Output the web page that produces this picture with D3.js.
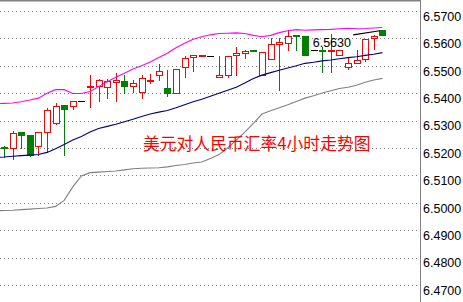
<!DOCTYPE html>
<html><head><meta charset="utf-8">
<script src="https://cdn.jsdelivr.net/npm/d3@7"></script>
<style>html,body{margin:0;padding:0;background:#fff;overflow:hidden}</style>
</head><body>
<svg id="c" width="463" height="302"></svg>
<script>
// ---- data (4-hour USD/CNY bars) ----
const opens  = [6.5202,6.5200,6.5258,6.5247,6.5208,6.5257,6.5290,6.5356,6.5352,6.5372,
                6.5423,6.5428,6.5423,6.5441,6.5443,6.5426,6.5406,6.5446,6.5465,6.5419,
                6.5401,6.5494,6.5532,6.5538,6.5535,6.5460,6.5468,6.5541,6.5545,6.5557,
                6.5465,6.5523,6.5578,6.5585,6.5614,6.5608,6.5556,6.5557,6.5555,6.5541,
                6.5496,6.5512,6.5524,6.5603,6.5632];
const highs  = [6.5207,6.5262,6.5258,6.5247,6.5259,6.5347,6.5366,6.5357,6.5372,6.5372,
                6.5466,6.5451,6.5451,6.5474,6.5466,6.5448,6.5466,6.5469,6.5505,6.5484,
                6.5487,6.5535,6.5539,6.5539,6.5535,6.5535,6.5535,6.5569,6.5559,6.5557,
                6.5552,6.5603,6.5603,6.5630,6.5614,6.5608,6.5556,6.5569,6.5615,6.5557,
                6.5527,6.5557,6.5597,6.5611,6.5632];
const lows   = [6.5168,6.5160,6.5200,6.5172,6.5176,6.5185,6.5289,6.5176,6.5342,6.5372,
                6.5348,6.5372,6.5382,6.5372,6.5401,6.5405,6.5381,6.5438,6.5450,6.5389,
                6.5401,6.5460,6.5481,6.5538,6.5535,6.5460,6.5460,6.5468,6.5527,6.5556,
                6.5465,6.5523,6.5411,6.5559,6.5559,6.5541,6.5556,6.5478,6.5478,6.5541,
                6.5487,6.5512,6.5518,6.5563,6.5611];
const closes = [6.5200,6.5254,6.5247,6.5174,6.5257,6.5338,6.5352,6.5344,6.5371,6.5372,
                6.5428,6.5450,6.5443,6.5450,6.5426,6.5437,6.5457,6.5448,6.5480,6.5401,
                6.5487,6.5530,6.5539,6.5539,6.5535,6.5466,6.5535,6.5548,6.5553,6.5556,
                6.5552,6.5579,6.5586,6.5608,6.5609,6.5541,6.5556,6.5555,6.5557,6.5557,
                6.5512,6.5520,6.5597,6.5609,6.5611];
// Bollinger bands, starting one bar before the first visible bar
const upperBand  = [6.5362,6.5363,6.5364,6.5369,6.5375,6.5382,6.5400,6.5413,6.5413,6.5399,
                    6.5399,6.5406,6.5424,6.5442,6.5458,6.5473,6.5488,6.5500,6.5514,6.5530,
                    6.5546,6.5566,6.5582,6.5597,6.5606,6.5613,6.5618,6.5619,6.5620,6.5618,
                    6.5611,6.5606,6.5611,6.5621,6.5628,6.5632,6.5630,6.5631,6.5632,6.5633,
                    6.5635,6.5637,6.5635,6.5636,6.5638,6.5640];
const middleBand = [6.5165,6.5167,6.5170,6.5172,6.5174,6.5176,6.5184,6.5197,6.5213,6.5229,
                    6.5242,6.5258,6.5271,6.5279,6.5287,6.5296,6.5305,6.5315,6.5324,6.5331,
                    6.5337,6.5347,6.5358,6.5369,6.5378,6.5389,6.5400,6.5411,6.5422,6.5437,
                    6.5454,6.5466,6.5475,6.5484,6.5492,6.5500,6.5509,6.5513,6.5518,6.5521,
                    6.5526,6.5530,6.5533,6.5538,6.5542,6.5548];
const lowerBand  = [6.4971,6.4972,6.4973,6.4975,6.4977,6.4979,6.4981,6.4987,6.5009,6.5058,
                    6.5098,6.5110,6.5112,6.5114,6.5116,6.5120,6.5124,6.5126,6.5127,6.5128,
                    6.5131,6.5136,6.5140,6.5145,6.5149,6.5162,6.5176,6.5200,6.5229,6.5258,
                    6.5290,6.5324,6.5336,6.5347,6.5358,6.5370,6.5382,6.5391,6.5401,6.5409,
                    6.5417,6.5422,6.5429,6.5440,6.5448,6.5454];
const trendLine  = [{bar: 40.6, price: 6.5613}, {bar: 43.7, price: 6.5628}];
const tickValues = [6.47,6.48,6.49,6.50,6.51,6.52,6.53,6.54,6.55,6.56,6.57];
const titleText  = "美元对人民币汇率4小时走势图";
const priceLabel = {bar: 35.9, price: 6.5630, text: "6.5630"};

// ---- drawing ----
const W = 463, H = 302, plotRight = 420;
const svg = d3.select('#c');
const x = d3.scaleLinear().domain([0, 44]).range([4, 382.4]);
const y = d3.scaleLinear().domain([6.47, 6.57]).range([285, 11]);
const px = v => Math.round(v) + 0.5;

svg.append('defs').append('clipPath').attr('id', 'plot')
  .append('rect').attr('x', 0).attr('y', 0).attr('width', plotRight).attr('height', H);

// grid
svg.append('g').selectAll('line').data(tickValues).join('line')
  .attr('x1', 0).attr('x2', plotRight)
  .attr('y1', d => px(y(d))).attr('y2', d => px(y(d)))
  .attr('stroke', '#808080').attr('stroke-dasharray', '1,3')
  .attr('shape-rendering', 'crispEdges');

// frame
svg.append('line').attr('x1', 0).attr('x2', plotRight + 1).attr('y1', 0.75).attr('y2', 0.75)
  .attr('stroke', '#808080').attr('stroke-width', 1.5);
svg.append('line').attr('x1', plotRight + 0.5).attr('x2', plotRight + 0.5).attr('y1', 0).attr('y2', H)
  .attr('stroke', '#808080').attr('shape-rendering', 'crispEdges');

// axis labels
const axis = d3.axisRight(y).tickValues(tickValues).tickFormat(d3.format('.4f'))
  .tickSize(0).tickPadding(2.5);
const ag = svg.append('g').attr('transform', `translate(${plotRight + 0.5},0)`).call(axis);
ag.select('.domain').remove();
ag.selectAll('text').attr('dy', '0.74em')
  .attr('font-family', '"Liberation Sans", Arial, sans-serif')
  .attr('font-size', '12.5px').attr('fill', '#000');

// candles
const plot = svg.append('g').attr('clip-path', 'url(#plot)');
const bars = opens.map((o, i) => ({i, o, h: highs[i], l: lows[i], c: closes[i]}));
const colorOf = d => d.c > d.o ? '#FF0000' : (d.c < d.o ? '#008000' : '#000000');
const cg = plot.append('g').attr('shape-rendering', 'crispEdges');
bars.forEach(d => {
  const cx = Math.round(x(d.i));
  const col = colorOf(d);
  const yh = Math.round(y(d.h)), yl = Math.round(y(d.l));
  if (yl > yh) {
    cg.append('line').attr('x1', cx + 0.5).attr('x2', cx + 0.5)
      .attr('y1', yh).attr('y2', yl + 1).attr('stroke', col);
  }
  if (d.c === d.o) {
    const yy = Math.round(y(d.o)) + 0.5;
    cg.append('line').attr('x1', cx - 3).attr('x2', cx + 4)
      .attr('y1', yy).attr('y2', yy).attr('stroke', col);
  } else {
    const top = Math.round(y(Math.max(d.o, d.c)));
    const bot = Math.round(y(Math.min(d.o, d.c)));
    cg.append('rect').attr('x', cx - 3 + 0.5).attr('y', top + 0.5)
      .attr('width', 6).attr('height', Math.max(bot - top, 1))
      .attr('fill', d.c > d.o ? '#FFFFFF' : col).attr('stroke', col);
  }
});

// bands
const bandLine = d3.line().x((d, i) => x(i - 1)).y(d => y(d));
[[upperBand, '#FF00FF'], [middleBand, '#000080'], [lowerBand, '#808080']].forEach(([arr, col]) => {
  plot.append('path').attr('d', bandLine(arr)).attr('fill', 'none')
    .attr('stroke', col).attr('stroke-width', 1.1);
});

// trend line
plot.append('path')
  .attr('d', d3.line().x(d => x(d.bar)).y(d => y(d.price))(trendLine))
  .attr('fill', 'none').attr('stroke', '#000').attr('stroke-width', 1.1);

// price label
svg.append('text').attr('x', x(priceLabel.bar)).attr('y', 47)
  .attr('font-family', '"Liberation Sans", Arial, sans-serif').attr('font-size', '12.5px')
  .attr('fill', '#000').text(priceLabel.text);

// title
svg.append('text').attr('x', 143).attr('y', 150)
  .attr('font-family', '"Noto Sans CJK SC", sans-serif').attr('font-size', '16.8px')
  .attr('fill', '#FF0000').text(titleText);
</script>
</body></html>
